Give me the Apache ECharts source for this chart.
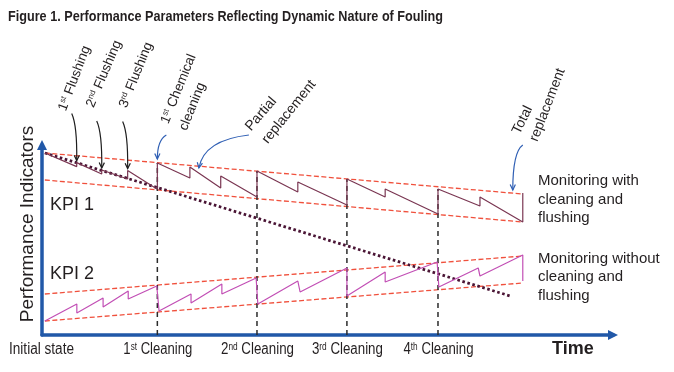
<!DOCTYPE html>
<html><head><meta charset="utf-8">
<script src="https://cdn.jsdelivr.net/npm/echarts@6/dist/echarts.min.js"></script>
<style>html,body{margin:0;padding:0;background:#fff}#c{width:674px;height:372px}</style>
</head><body><div id="c"></div>
<script>
// ---------- data (time units 0..100, indicator units 0..95) ----------
const kpi1Time  = [0.5, 6.08, 6.08, 10.46, 10.46, 15.0, 15.0, 20.2, 20.2, 25.9, 25.9, 31.3, 31.3, 37.65, 37.65, 44.8, 44.8, 53.4, 53.4, 60.1, 60.1, 69.35, 69.35, 76.7, 76.7, 84.2, 84.2];
const kpi1Value = [91, 84.2, 86.2, 80.5, 82.5, 78, 82.2, 72.9, 86, 78.5, 84, 73.5, 79.5, 69, 82, 71.5, 76.5, 65, 78, 69, 73, 60.5, 73, 64.5, 69, 56.5, 71];
const kpi2Time  = [0.5, 6.1, 6.1, 10.7, 10.7, 15.1, 15.1, 20.1, 20.5, 26.1, 26.1, 31.5, 31.5, 37.5, 37.8, 44.8, 45.2, 53.4, 53.4, 60.1, 60.1, 69.2, 69.5, 76.4, 76.7, 84.2, 84.2];
const kpi2Value = [7, 15.5, 11, 18.5, 14, 22, 18, 24.5, 12, 20.5, 16, 25.5, 20.5, 28.5, 15.5, 27, 21.5, 33.5, 19.5, 31.5, 26.5, 36.5, 24, 33.5, 29.5, 40, 27];
const noCleanTime  = [0.5, 82];
const noCleanValue = [91, 19.5];
const envTime        = [0.5, 84.2];
const env1UpperValue = [91, 70.5];
const env1LowerValue = [77.5, 56.5];
const env2UpperValue = [20.5, 39.5];
const env2LowerValue = [7, 26];
const cleaningTime = [20.2, 37.65, 53.4, 69.35];
const cleaningTop  = [86, 82, 78, 73];
const cleaningNum  = ['1', '2', '3', '4'];
const cleaningSup  = ['st', 'nd', 'rd', 'th'];
const flushTime  = [6.08, 10.46, 15.0];
const flushValue = [86.2, 82.5, 82.2];
const flushSup   = ['st', 'nd', 'rd'];

// ---------- styles ----------
const SANS = "'Liberation Sans', Arial, Helvetica, sans-serif";
const TXT = '#231f20';
const AXIS = '#2158a8';
const ENV = '#f0503c';
const BLUE = '#2f5fb4';

const pair = (xs, ys) => xs.map((x, i) => [x, ys[i]]);
const lineSeries = (data, color, width, type, z) => ({
  type: 'line', data, symbol: 'none', silent: true, animation: false, z,
  lineStyle: { color, width, type }
});

const chart = echarts.init(document.getElementById('c'), null, { renderer: 'canvas' });
chart.setOption({
  animation: false,
  backgroundColor: '#ffffff',
  grid: { left: 42, right: 61, top: 145, bottom: 37 },
  xAxis: {
    type: 'value', min: 0, max: 100,
    axisLine: { show: true, onZero: false, symbol: ['none', 'triangle'], symbolSize: [10, 10], lineStyle: { color: AXIS, width: 3.5 } },
    axisTick: { show: false }, axisLabel: { show: false }, splitLine: { show: false }
  },
  yAxis: {
    type: 'value', min: 0, max: 95,
    axisLine: { show: true, onZero: false, symbol: ['none', 'triangle'], symbolSize: [10, 10], lineStyle: { color: AXIS, width: 3.5 } },
    axisTick: { show: false }, axisLabel: { show: false }, splitLine: { show: false }
  },
  series: [
    lineSeries(pair(envTime, env1UpperValue), ENV, 1.3, [5, 2.5], 1),
    lineSeries(pair(envTime, env1LowerValue), ENV, 1.3, [5, 2.5], 1),
    lineSeries(pair(envTime, env2UpperValue), ENV, 1.3, [5, 2.5], 1),
    lineSeries(pair(envTime, env2LowerValue), ENV, 1.3, [5, 2.5], 1),
    ...cleaningTime.map((c, i) => lineSeries([[c, 0], [c, cleaningTop[i]]], '#2b2b2b', 1.5, [5, 4], 2)),
    lineSeries(pair(noCleanTime, noCleanValue), '#4a1535', 2.8, [2.6, 2.6], 3),
    lineSeries(pair(kpi1Time, kpi1Value), '#7a3652', 1.2, 'solid', 4),
    lineSeries(pair(kpi2Time, kpi2Value), '#c24fb5', 1.2, 'solid', 4)
  ]
});

const px = (t, v) => chart.convertToPixel({ gridIndex: 0 }, [t, v]);

// text width measuring to emulate a condensed face with scaleX
const mctx = document.createElement('canvas').getContext('2d');
function measure(parts) {
  let w = 0;
  parts.forEach(([t, size, weight]) => { mctx.font = (weight || 'normal') + ' ' + size + 'px ' + SANS; w += mctx.measureText(t).width; });
  return w;
}

function supText(num, sup, rest, size, extra) {
  return Object.assign({
    text: '{n|' + num + '}{s|' + sup + '}{n|' + rest + '}',
    rich: {
      n: { fontSize: size, fontFamily: SANS, fill: TXT },
      s: { fontSize: Math.round(size * 0.62), fontFamily: SANS, fill: TXT, verticalAlign: 'top' }
    },
    fill: TXT, fontSize: size, fontFamily: SANS,
    align: 'center', verticalAlign: 'middle', textAlign: 'center', textVerticalAlign: 'middle'
  }, extra || {});
}
function plain(text, size, align, weight) {
  return {
    text, fontSize: size, fontFamily: SANS, fontWeight: weight || 'normal', fill: TXT,
    align: align || 'center', textAlign: align || 'center', verticalAlign: 'middle', textVerticalAlign: 'middle'
  };
}
function arrow(tail, cp, tip, color) {
  const ang = Math.atan2(tip[1] - cp[1], tip[0] - cp[0]);
  const L = 6, a = 0.45;
  const h1 = [tip[0] - L * Math.cos(ang - a), tip[1] - L * Math.sin(ang - a)];
  const h2 = [tip[0] - L * Math.cos(ang + a), tip[1] - L * Math.sin(ang + a)];
  return [
    { type: 'bezierCurve', z: 20, silent: true, shape: { x1: tail[0], y1: tail[1], x2: tip[0], y2: tip[1], cpx1: cp[0], cpy1: cp[1] }, style: { stroke: color, lineWidth: 1.2, fill: 'none' } },
    { type: 'polyline', z: 20, silent: true, shape: { points: [h1, tip, h2] }, style: { stroke: color, lineWidth: 1.2, fill: 'none' } }
  ];
}
const rad = d => d * Math.PI / 180;

const g = [];
// title (condensed bold)
{
  const t = 'Figure 1. Performance Parameters Reflecting Dynamic Nature of Fouling';
  const w = measure([[t, 15.5, 'bold']]);
  g.push({ type: 'text', x: 8, y: 17, scaleX: 435 / w, z: 30, style: plain(t, 15.5, 'left', 'bold') });
}
// y axis title
g.push({ type: 'text', x: 27.5, y: 224, rotation: Math.PI / 2, z: 30, style: plain('Performance Indicators', 19) });
// KPI labels
g.push({ type: 'text', x: 50, y: 205, z: 30, style: plain('KPI 1', 18, 'left') });
g.push({ type: 'text', x: 50, y: 274.5, z: 30, style: plain('KPI 2', 18, 'left') });
// right labels
['Monitoring with', 'cleaning and', 'flushing'].forEach((t, i) => g.push({ type: 'text', x: 538, y: 181.3 + i * 18.5, z: 30, style: plain(t, 15, 'left') }));
['Monitoring without', 'cleaning and', 'flushing'].forEach((t, i) => g.push({ type: 'text', x: 538, y: 258.5 + i * 18.5, z: 30, style: plain(t, 15, 'left') }));
// bottom labels (condensed)
const p0 = px(0, 0);
{
  const w = measure([['Initial state', 16]]);
  g.push({ type: 'text', x: p0[0] - 0.5, y: 350, scaleX: 65 / w, z: 30, style: plain('Initial state', 16) });
}
const cleaningWidth = [69, 73, 71, 70];
cleaningTime.forEach((c, i) => {
  const p = px(c, 0);
  const w = measure([[cleaningNum[i], 16], [cleaningSup[i], 10], [' Cleaning', 16]]);
  g.push({ type: 'text', x: p[0] + 0.5, y: 350, scaleX: cleaningWidth[i] / w, z: 30, style: supText(cleaningNum[i], cleaningSup[i], ' Cleaning', 16) });
});
g.push({ type: 'text', x: 552, y: 349, z: 30, style: plain('Time', 18, 'left', 'bold') });

// flushing annotations
const flushLbl = [[74.5, 78.5, 69], [104, 74, 67], [136, 75, 68]];
flushTime.forEach((t, i) => {
  const p = px(t, flushValue[i]);
  const tip = [p[0], p[1] - 2];
  const tail = [tip[0] - 5, tip[1] - 47];
  g.push(...arrow(tail, [tip[0] + 0.5, tail[1] + 12], tip, '#1e1e1e'));
  const L = flushLbl[i];
  g.push({ type: 'text', x: L[0], y: L[1], rotation: rad(L[2]), z: 30, style: supText(String(i + 1), flushSup[i], ' Flushing', 13.5) });
});
// 1st chemical cleaning
{
  const p = px(cleaningTime[0], cleaningTop[0]);
  const tip = [p[0], p[1] - 4];
  g.push(...arrow([tip[0] + 9, tip[1] - 24], [tip[0], tip[1] - 19], tip, BLUE));
  g.push({ type: 'text', x: 178.5, y: 89, rotation: rad(68), z: 30, style: supText('1', 'st', ' Chemical', 13.5) });
  g.push({ type: 'text', x: 192.5, y: 106.5, rotation: rad(68), z: 30, style: plain('cleaning', 13.5) });
}
// partial replacement
{
  const p = px(kpi1Time[10], kpi1Value[10]);
  const tip = [p[0] + 9, p[1] + 1];
  g.push(...arrow([tip[0] + 50, tip[1] - 33], [tip[0] + 5, tip[1] - 28], tip, BLUE));
  g.push({ type: 'text', x: 261, y: 114, rotation: rad(49), z: 30, style: plain('Partial', 14) });
  g.push({ type: 'text', x: 289, y: 112, rotation: rad(51), z: 30, style: plain('replacement', 14) });
}
// total replacement
{
  const last = kpi1Time.length - 1;
  const p = px(kpi1Time[last], kpi1Value[last]);
  const tip = [p[0] - 10, p[1] - 3];
  g.push(...arrow([tip[0] + 10, tip[1] - 45], [tip[0], tip[1] - 38], tip, BLUE));
  g.push({ type: 'text', x: 522.5, y: 120, rotation: rad(64), z: 30, style: plain('Total', 14) });
  g.push({ type: 'text', x: 547.5, y: 105, rotation: rad(69), z: 30, style: plain('replacement', 14) });
}
chart.setOption({ graphic: { elements: g } });
</script>
</body></html>
